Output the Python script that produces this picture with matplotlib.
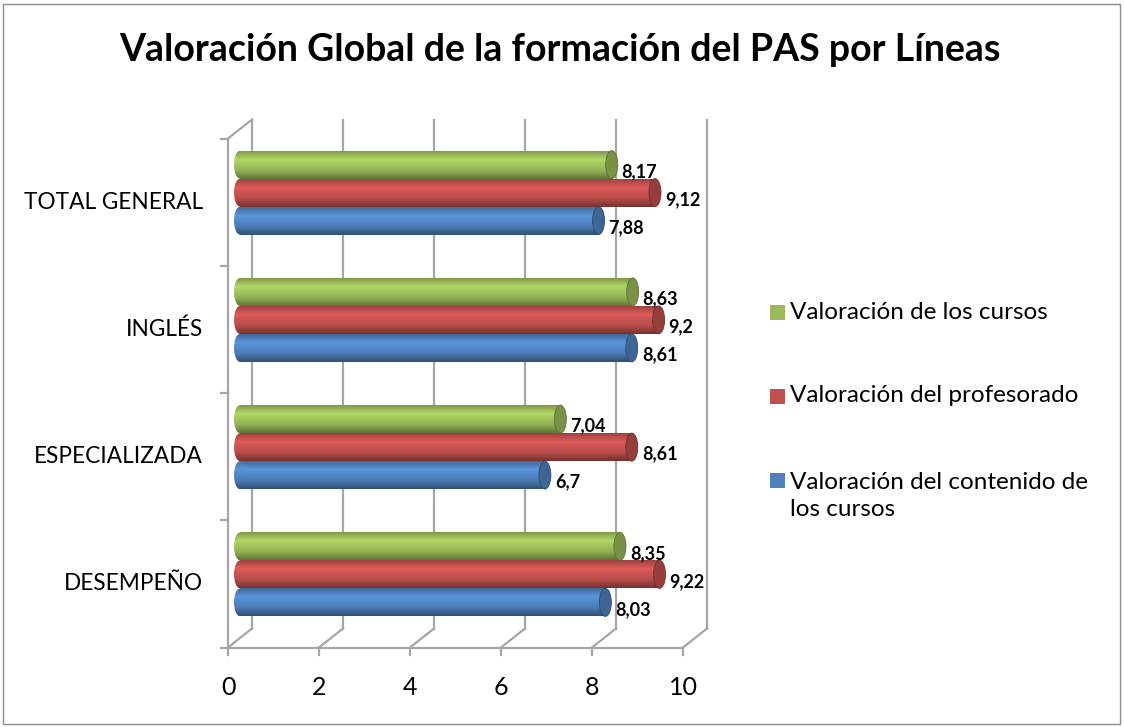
import numpy as np
import matplotlib
matplotlib.use('Agg')
import matplotlib.pyplot as plt
from matplotlib.patches import Ellipse, Rectangle
from matplotlib.colors import to_rgb

plt.rcParams['font.family'] = ['Lato', 'DejaVu Sans']

# data
categories = ['DESEMPEÑO', 'ESPECIALIZADA', 'INGLÉS', 'TOTAL GENERAL']
contenido = [8.03, 6.7, 8.61, 7.88]      # blue
profesorado = [9.22, 8.61, 9.2, 9.12]    # red
cursos = [8.35, 7.04, 8.63, 8.17]        # green
series_names = ['Valoración del contenido de\nlos cursos',
                'Valoración del profesorado',
                'Valoración de los cursos']
colors = ['#4F81BD', '#C0504D', '#9BBB59']
xticks = [0, 2, 4, 6, 8, 10]

W, H = 1124, 727
fig = plt.figure(figsize=(W / 100, H / 100), dpi=100)
fig.patches.append(Rectangle((3 / W, 3 / H), 1 - 7 / W, 1 - 7 / H, transform=fig.transFigure,
                             fill=False, ec='#8c8c8c', lw=1))

# axes placed at the middle of the 3d depth (x=0 at 240px, 45.5 px per unit)
px_x = 455 / 10
px_y = 509 / 4
xmin = -0.4
ax = fig.add_axes([(240 + xmin * px_x) / W, 1 - 638 / H, (10 - xmin) * px_x / W, 509 / H])
ax.axis('off')
dx, dy = 12 / px_x, 9.5 / px_y   # half depth in data units
grid_c = '#A6A6A6'
glw = 1.6

# back wall grid + floor
for x in xticks:
    ax.plot([x + dx, x + dx], [dy, 4 + dy], color=grid_c, lw=glw, zorder=1, clip_on=False)
    ax.plot([x - dx, x + dx], [-dy, dy], color=grid_c, lw=glw, zorder=1, clip_on=False)
    ax.plot([x - dx, x - dx], [-dy, -dy - 7 / px_y], color=grid_c, lw=glw, zorder=5, clip_on=False)
    ax.text(x - dx, -dy - 40 / px_y, str(x), ha='center', va='center', fontsize=18, clip_on=False)
ax.plot([-dx, 10 - dx], [-dy, -dy], color=grid_c, lw=glw, zorder=5, clip_on=False)
# left wall
ax.plot([-dx, -dx], [-dy, 4 - dy], color=grid_c, lw=glw, zorder=5, clip_on=False)
ax.plot([-dx, dx], [4 - dy, 4 + dy], color=grid_c, lw=glw, zorder=1, clip_on=False)
for k in range(5):
    ax.plot([-dx - 7 / px_x, -dx], [k - dy, k - dy], color=grid_c, lw=glw, zorder=5, clip_on=False)

# category labels
for i, c in enumerate(categories):
    ax.text(-dx - 25 / px_x, i + 0.5 - dy, c, ha='right', va='center', fontsize=16.3, clip_on=False)

# cylinders
bh = 28 / px_y
ew = 12 / px_x
t = np.linspace(0, 1, 60)
shade = np.interp(t, [0, 0.3, 0.7, 1], [0.82, 1.15, 0.95, 0.62])
y = np.arange(len(categories)) + 0.5
for k, (vals, col) in enumerate(zip([contenido, profesorado, cursos], colors)):
    base = np.array(to_rgb(col))
    grad = np.clip(base[None, :] * shade[:, None], 0, 1)[:, None, :]
    yy = y + (k - 1) * bh
    bars = ax.barh(yy, vals, height=bh, color=col, lw=0, zorder=3)
    for b, v, yc in zip(bars, vals, yy):
        left = Ellipse((0, yc), ew, bh, transform=ax.transData)
        for clip in (b, left):
            im = ax.imshow(grad, extent=[-ew / 2, v, yc - bh / 2, yc + bh / 2],
                           aspect='auto', zorder=3, interpolation='bilinear')
            im.set_clip_path(clip)
        cap = Ellipse((v, yc), ew, bh, fc=np.clip(base * 0.78, 0, 1), ec=np.clip(base * 0.6, 0, 1),
                      lw=0.6, zorder=4)
        ax.add_patch(cap)
        ax.annotate(f'{v:g}'.replace('.', ','), (v, yc), xytext=(10, -7), textcoords='offset pixels',
                    ha='left', va='center', fontsize=13, fontweight='bold', zorder=6)

ax.set_xlim(xmin, 10)
ax.set_ylim(0, 4)

# legend
for (name, col), ypix in zip(list(zip(series_names, colors))[::-1], [312, 396, 480]):
    fig.patches.append(Rectangle((770 / W, 1 - (ypix + 7.5) / H), 15 / W, 15 / H,
                                 transform=fig.transFigure, fc=col, ec='none'))
    yt = ypix + 16 if '\n' in name else ypix
    fig.text(790 / W, 1 - yt / H, name, ha='left', va='center', fontsize=17.5, linespacing=1.38)

fig.text(560 / W, 1 - 50 / H, 'Valoración Global de la formación del PAS por Líneas',
         ha='center', va='center', fontsize=27, fontweight='bold')

fig.savefig('out.png', dpi=100)
